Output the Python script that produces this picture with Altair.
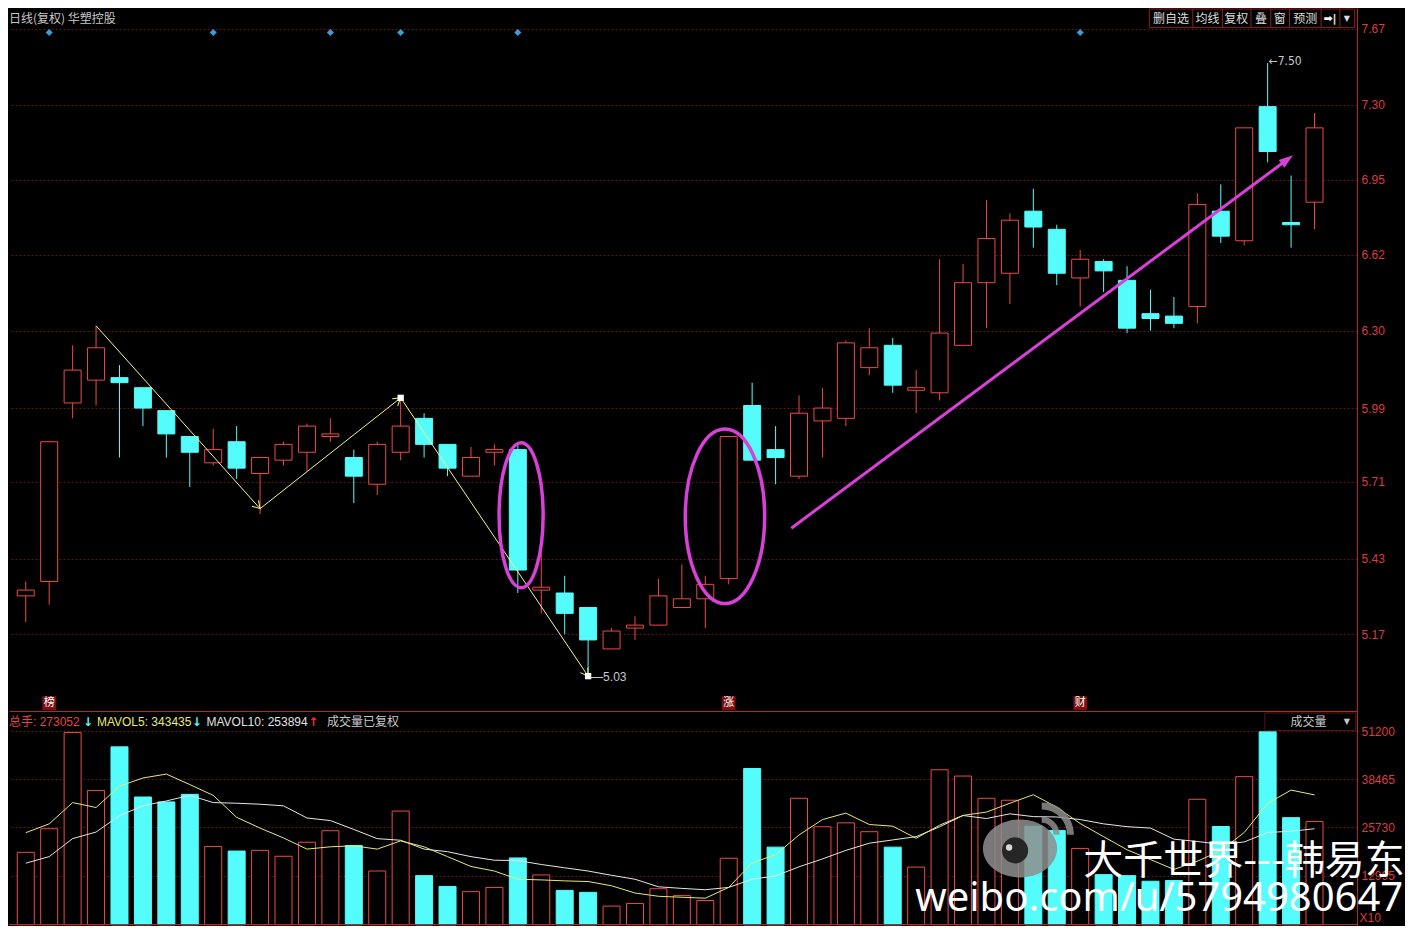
import altair as alt
import pandas as pd

# ---------------- data ----------------
idx = list(range(56))
opens = [5.30, 5.35, 6.01, 6.10, 6.11, 6.07, 5.98, 5.88, 5.78, 5.86,
         5.74, 5.79, 5.82, 5.88, 5.80, 5.70, 5.82, 5.95, 5.85, 5.73,
         5.82, 5.83, 5.32, 5.31, 5.26, 5.12, 5.19, 5.20, 5.26, 5.29,
         5.36, 6.00, 5.83, 5.73, 5.94, 5.95, 6.15, 6.24, 6.06, 6.05,
         6.24, 6.50, 6.54, 6.81, 6.73, 6.52, 6.59, 6.51, 6.37, 6.36,
         6.40, 6.81, 6.68, 7.29, 6.76, 6.85]
highs = [5.35, 5.86, 6.24, 6.32, 6.16, 6.07, 5.98, 5.88, 5.91, 5.92,
         5.80, 5.86, 5.93, 5.95, 5.83, 5.86, 6.03, 5.97, 5.85, 5.84,
         5.85, 5.85, 5.46, 5.37, 5.26, 5.19, 5.23, 5.36, 5.41, 5.37,
         5.88, 6.09, 5.92, 6.04, 6.07, 6.26, 6.31, 6.27, 6.14, 6.60,
         6.58, 6.86, 6.80, 6.91, 6.75, 6.64, 6.60, 6.57, 6.47, 6.44,
         6.89, 6.93, 7.19, 7.50, 6.97, 7.26]
lows = [5.21, 5.27, 5.95, 6.00, 5.80, 5.92, 5.80, 5.69, 5.77, 5.72,
        5.59, 5.77, 5.75, 5.86, 5.63, 5.66, 5.79, 5.80, 5.73, 5.73,
        5.77, 5.31, 5.24, 5.17, 5.03, 5.12, 5.15, 5.20, 5.26, 5.19,
        5.34, 5.79, 5.70, 5.72, 5.80, 5.92, 6.12, 6.05, 5.97, 6.02,
        6.24, 6.31, 6.41, 6.65, 6.49, 6.40, 6.46, 6.29, 6.30, 6.31,
        6.33, 6.67, 6.66, 7.03, 6.65, 6.73]
closes = [5.32, 5.86, 6.14, 6.23, 6.09, 5.99, 5.89, 5.82, 5.83, 5.76,
          5.80, 5.85, 5.92, 5.89, 5.73, 5.85, 5.92, 5.85, 5.76, 5.80,
          5.83, 5.39, 5.33, 5.24, 5.15, 5.18, 5.20, 5.30, 5.29, 5.34,
          5.88, 5.79, 5.80, 5.97, 5.99, 6.25, 6.23, 6.08, 6.07, 6.29,
          6.50, 6.69, 6.77, 6.74, 6.54, 6.60, 6.55, 6.31, 6.35, 6.33,
          6.84, 6.70, 7.19, 7.08, 6.75, 7.19]
volumes = [19155, 25392, 50862, 35529, 47042, 33787, 32488, 34489, 20714, 19493,
           19674, 18115, 21832, 24872, 20974, 14217, 30070, 12995, 10136, 8759,
           9876, 17673, 13177, 9097, 8577, 4938, 5640, 9538, 7719, 6420,
           17595, 41324, 20532, 33449, 25912, 26952, 24613, 20532, 15256, 40986,
           39323, 33449, 32929, 26068, 24950, 20194, 13255, 12995, 11514, 11700,
           33189, 25990, 39167, 51019, 28329, 27305]
mavol5 = [24350, 26690, 32310, 31010, 36650, 38810, 39850, 37080, 34220, 28420,
          25560, 22960, 20010, 20620, 20880, 20010, 22180, 20620, 18020, 15420,
          14210, 12040, 11870, 11610, 11440, 10310, 8400, 7540, 7280, 7020,
          9880, 16370, 18540, 23740, 27810, 29540, 26510, 26080, 22870, 26340,
          28930, 29800, 32140, 34390, 31100, 26770, 23310, 19840, 17240, 14640,
          16810, 19600, 24400, 32100, 35610, 34343]
mavol10 = [16290, 18020, 22780, 24520, 28850, 31450, 32750, 34220, 32310, 32140,
           31880, 31450, 28240, 27550, 25210, 22780, 22350, 20010, 19320, 18020,
           17070, 16980, 15940, 15070, 14210, 13080, 12040, 10050, 9620, 9270,
           9880, 12040, 12910, 15330, 17410, 19670, 21570, 22440, 23310, 25910,
           28890, 28100, 29340, 28600, 28510, 27830, 26690, 25940, 25570, 22640,
           22020, 21280, 21900, 24400, 24740, 25389]

price_ticks = [5.17, 5.43, 5.71, 5.99, 6.30, 6.62, 6.95, 7.30, 7.67]
vol_ticks = [12995, 25730, 38465, 51200]

# annotations (in data space)
zigzag_idx = [3, 10, 16, 24]
zigzag_price = [6.32, 5.61, 6.03, 5.03]
square_idx = [16, 24]
square_price = [6.03, 5.03]
diamond_idx = [1, 8, 13, 16, 21, 45]
event_idx = [1, 30, 45]
event_text = ["榜", "涨", "财"]
trend_idx = [32.67, 53.81]
trend_price = [5.539, 7.041]
ellipse_idx = [21.14, 29.84]
ellipse_price = [5.586, 5.582]

# ---------------- layout / style ----------------
SX = 1400 / 1418
SY = 918 / 935
W = round(1365 * SX)
H1 = round(716 * SY)
H2 = 918 - H1


def px(x):
    return round(x * SX, 1)


def py1(y):
    return round(y * SY, 1)


def py2(y):
    return round((y - 716) * SY, 1)


RED = "#f04848"
CYAN = "#54fcfc"
AXIS_RED = "#b42828"
LABEL_RED = "#dc3c3c"
GRID = "#5e1818"
ZIG = "#f4f48c"
MA5C = "#e8e878"
MA10C = "#e6e6e6"
MAG = "#d840d8"
GRAYT = "#c8c8c8"
FONT_NUM = "Liberation Sans"
FONT_CJK = "Noto Sans CJK SC"
FONT_MIX = "Liberation Sans, Noto Sans CJK SC"
BODY = 17

df = pd.DataFrame({"i": idx, "open": opens, "high": highs, "low": lows,
                   "close": closes, "vol": volumes, "ma5": mavol5, "ma10": mavol10})
df["dir"] = ["up" if c >= o else "down" for o, c in zip(opens, closes)]

xscale = alt.Scale(domain=[-0.502, 56.60], nice=False, zero=False)
yscale = alt.Scale(type="log", domain=[4.917, 7.774], nice=False, zero=False)
vscale = alt.Scale(domain=[-322, 56528], nice=False, zero=False)

xaxis_p = alt.Axis(orient="bottom", labels=False, ticks=False, grid=False,
                   domainColor=AXIS_RED, domainWidth=1, title=None)
yaxis_p = alt.Axis(orient="right", values=price_ticks, format=".2f", title=None,
                   labelColor=LABEL_RED, labelFont=FONT_NUM, labelFontSize=12,
                   labelPadding=4, ticks=False, domainColor=AXIS_RED, domainWidth=1,
                   grid=True, gridColor=GRID, gridDash=[2, 2], gridWidth=1,
                   labelFlush=False, labelOverlap=False, labelBaseline="middle")
yaxis_v = alt.Axis(orient="right", values=vol_ticks, format="d", title=None,
                   labelColor=LABEL_RED, labelFont=FONT_NUM, labelFontSize=12,
                   labelPadding=4, ticks=False, domainColor=AXIS_RED, domainWidth=1,
                   grid=True, gridColor=GRID, gridDash=[2, 2], gridWidth=1,
                   labelFlush=False, labelOverlap=False, labelBaseline="middle")

dir_fill = alt.Scale(domain=["up", "down"], range=["#000000", CYAN])
dir_stroke = alt.Scale(domain=["up", "down"], range=[RED, CYAN])

XP = alt.X("i:Q", scale=xscale, axis=xaxis_p)
XV = alt.X("i:Q", scale=xscale, axis=None)


def YP(f):
    return alt.Y(f, type="quantitative", scale=yscale, axis=yaxis_p)


def YV(f):
    return alt.Y(f, type="quantitative", scale=vscale, axis=yaxis_v)


ONE = alt.Data(values=[{}])


def txt(text, x, y, color, size=12, font=FONT_MIX, align="left", weight="normal",
        opacity=1.0):
    return alt.Chart(ONE).mark_text(text=text, align=align, baseline="middle",
                                    color=color, fontSize=size, font=font,
                                    fontWeight=weight, opacity=opacity).encode(
        x=alt.value(x), y=alt.value(y))


base = alt.Chart(df)

# ---------------- price pane ----------------
wicks = base.mark_rule(strokeWidth=1).encode(
    x=XP, y=YP("low"), y2="high",
    color=alt.Color("dir:N", scale=dir_stroke, legend=None))
bodies = base.mark_bar(size=BODY, strokeWidth=1).encode(
    x=XP, y=YP("open"), y2="close",
    fill=alt.Fill("dir:N", scale=dir_fill, legend=None),
    stroke=alt.Stroke("dir:N", scale=dir_stroke, legend=None))

zz = pd.DataFrame({"i": zigzag_idx, "p": zigzag_price, "o": list(range(len(zigzag_idx)))})
zig_line = alt.Chart(zz).mark_line(color=ZIG, strokeWidth=1).encode(
    x=XP, y=YP("p"), order="o:Q")
head_angles = [138, 52, 146]
zzh = pd.DataFrame({"i": zigzag_idx[1:], "p": zigzag_price[1:], "ang": head_angles})
zig_heads = alt.Chart(zzh).mark_point(
    shape="M -0.55 0.9 L 0 0 L 0.55 0.9", filled=False, size=260,
    strokeWidth=1, color=ZIG, opacity=1).encode(
    x=XP, y=YP("p"), angle=alt.Angle("ang:Q", scale=None))
sq = pd.DataFrame({"i": square_idx, "p": square_price})
squares = alt.Chart(sq).mark_square(size=40, color="#ffffff", opacity=1).encode(
    x=XP, y=YP("p"))

lab_hi = alt.Chart(pd.DataFrame({"i": [53], "p": [7.50]})).mark_text(
    text="←7.50", align="left", baseline="middle", dx=1, dy=-2, color=GRAYT,
    fontSize=12, font="DejaVu Sans Condensed, Liberation Sans").encode(x=XP, y=YP("p"))
lab_lo = alt.Chart(pd.DataFrame({"i": [24], "p": [5.03]})).mark_text(
    text="—5.03", align="left", baseline="middle", dx=3, dy=1, color=GRAYT,
    fontSize=12, font=FONT_NUM).encode(x=XP, y=YP("p"))

ell1 = alt.Chart(pd.DataFrame({"i": ellipse_idx[:1], "p": ellipse_price[:1]})).mark_point(
    shape="M 0.304 0 A 0.304 1 0 1 1 -0.304 0 A 0.304 1 0 1 1 0.304 0 Z",
    filled=False, size=21000, strokeWidth=3.5, color=MAG, opacity=1).encode(
    x=XP, y=YP("p"))
ell2 = alt.Chart(pd.DataFrame({"i": ellipse_idx[1:], "p": ellipse_price[1:]})).mark_point(
    shape="M 0.455 0 A 0.455 1 0 1 1 -0.455 0 A 0.455 1 0 1 1 0.455 0 Z",
    filled=False, size=30450, strokeWidth=3.5, color=MAG, opacity=1).encode(
    x=XP, y=YP("p"))

tr = pd.DataFrame({"i": trend_idx, "p": trend_price, "o": [0, 1]})
trend_line = alt.Chart(tr).mark_line(color=MAG, strokeWidth=3).encode(
    x=XP, y=YP("p"), order="o:Q")
trend_head = alt.Chart(tr.iloc[1:]).mark_point(
    shape="M 0 -1 L 0.6 0.8 L -0.6 0.8 Z", filled=True, size=256,
    color=MAG, opacity=1, angle=53).encode(x=XP, y=YP("p"))

dm = pd.DataFrame({"i": diamond_idx})
diamonds = alt.Chart(dm).mark_point(shape="diamond", filled=True, size=50,
                                    color="#3c9cd4", opacity=1).encode(
    x=XP, y=alt.value(py1(25)))

ev = pd.DataFrame({"i": event_idx, "t": event_text})
ev_bg = alt.Chart(ev).mark_square(size=190, color="#7a1010", opacity=1).encode(
    x=XP, y=alt.value(py1(708)))
ev_tx = alt.Chart(ev).mark_text(baseline="middle", align="center", color="#ffffff",
                                fontSize=11, font=FONT_CJK).encode(
    x=XP, y=alt.value(py1(708)), text="t:N")

# header + toolbar
hdr = txt("日线(复权)  华塑控股", 0, py1(11), GRAYT, font=FONT_CJK)
tb_box = alt.Chart(ONE).mark_rect(fill="#000000", stroke="#8c2020", strokeWidth=1).encode(
    x=alt.value(px(1155)), x2=alt.value(px(1363)), y=alt.value(py1(1)), y2=alt.value(py1(20)))
tb_layers = [tb_box]
for xs in [1199, 1229, 1258, 1278, 1297, 1329, 1348]:
    tb_layers.append(alt.Chart(ONE).mark_rule(color="#8c2020", strokeWidth=1).encode(
        x=alt.value(px(xs)), y=alt.value(py1(1)), y2=alt.value(py1(20))))
for t, xc in [("删自选", 1177), ("均线", 1214), ("复权", 1243), ("叠", 1268),
              ("窗", 1287), ("预测", 1313)]:
    tb_layers.append(txt(t, px(xc), py1(11), "#dcdcdc", font=FONT_CJK, align="center"))
tb_layers.append(txt("➡|", px(1338), py1(11), "#f0f0f0", size=11,
                     font="DejaVu Sans", align="center", weight="bold"))
tb_layers.append(txt("▼", px(1355), py1(11), "#dcdcdc", size=8,
                     font="DejaVu Sans", align="center"))

price = alt.layer(wicks, bodies, zig_line, zig_heads, squares, lab_hi, lab_lo,
                  ell1, ell2, trend_line, trend_head, diamonds, ev_bg, ev_tx,
                  hdr, *tb_layers).properties(width=W, height=H1)

# ---------------- volume pane ----------------
vbars = base.mark_bar(size=BODY, strokeWidth=1).encode(
    x=XV, y=YV("vol"), y2=alt.datum(0),
    fill=alt.Fill("dir:N", scale=dir_fill, legend=None),
    stroke=alt.Stroke("dir:N", scale=dir_stroke, legend=None))
ma10_line = base.mark_line(color=MA10C, strokeWidth=1).encode(x=XV, y=YV("ma10"))
ma5_line = base.mark_line(color=MA5C, strokeWidth=1).encode(x=XV, y=YV("ma5"))
zero_rule = alt.Chart(ONE).mark_rule(color=AXIS_RED, strokeWidth=1).encode(
    y=alt.value(py2(933.5)))

vh = py2(727)
vol_hdr = [
    txt("总手: 273052", 0, vh, "#e04848"),
    txt("↓", px(75), vh, CYAN, weight="bold", font="DejaVu Sans"),
    txt("MAVOL5: 343435", px(89), vh, "#e8e878"),
    txt("↓", px(185), vh, CYAN, weight="bold", font="DejaVu Sans"),
    txt("MAVOL10: 253894", px(200), vh, "#e0e0e0"),
    txt("↑", px(303), vh, "#f03030", weight="bold", font="DejaVu Sans"),
    txt("成交量已复权", px(322), vh, GRAYT, font=FONT_CJK),
]
vbox = alt.Chart(ONE).mark_rect(fill="#000000", stroke="#5a1414", strokeWidth=1).encode(
    x=alt.value(px(1272)), x2=alt.value(px(1364)), y=alt.value(py2(718)),
    y2=alt.value(py2(736)))
vol_hdr += [vbox,
            txt("成交量", px(1298), vh, GRAYT, font=FONT_CJK),
            txt("▼", px(1355), vh, GRAYT, size=8, font="DejaVu Sans", align="center"),
            txt("X10", px(1368), py2(927), LABEL_RED, size=12, font=FONT_NUM)]

# weibo watermark
logo = [
    alt.Chart(ONE).mark_point(
        shape="M 1 0 A 1 0.78 0 1 1 -1 0 A 1 0.78 0 1 1 1 0 Z", filled=True,
        size=5500, color="#8e8e8e", opacity=0.85).encode(
        x=alt.value(px(1024)), y=alt.value(py2(856))),
    alt.Chart(ONE).mark_point(shape="circle", filled=True, size=680,
                              color="#262626", opacity=1).encode(
        x=alt.value(px(1019)), y=alt.value(py2(858))),
    alt.Chart(ONE).mark_point(shape="circle", filled=True, size=40,
                              color="#d8d8d8", opacity=1).encode(
        x=alt.value(px(1013)), y=alt.value(py2(855))),
    alt.Chart(ONE).mark_point(shape="M 0 -1 A 1 1 0 0 1 1 0", filled=False,
                              size=3300, strokeWidth=7, color="#8e8e8e",
                              opacity=0.85).encode(
        x=alt.value(px(1046)), y=alt.value(py2(842))),
    alt.Chart(ONE).mark_point(shape="M 0 -1 A 1 1 0 0 1 1 0", filled=False,
                              size=880, strokeWidth=6, color="#8e8e8e",
                              opacity=0.85).encode(
        x=alt.value(px(1046)), y=alt.value(py2(842))),
]
wm1 = txt("大千世界---韩易东", px(1088), py2(870), "#ffffff", size=40, font=FONT_CJK)
wm2 = txt("weibo.com/u/5794980647", px(918), py2(907), "#ffffff", size=40,
          font="Noto Sans")

volume = alt.layer(vbars, ma10_line, ma5_line, zero_rule, *vol_hdr, *logo,
                   wm1, wm2).properties(width=W, height=H2)

chart = alt.vconcat(price, volume, spacing=0, bounds="flush").properties(
    background="#000000", padding=0
).configure_view(stroke=None).resolve_scale(x="shared")

chart.save("out.html", embed_options={"renderer": "svg", "actions": False})
